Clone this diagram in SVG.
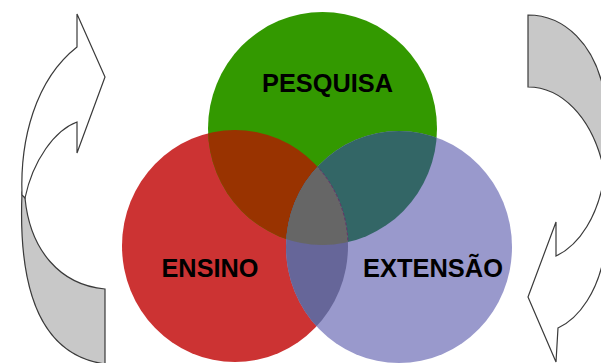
<svg xmlns="http://www.w3.org/2000/svg" width="601" height="363" viewBox="0 0 601 363">
  <style>
    .arrow { stroke: #3a3a3a; stroke-width: 1.2; stroke-linejoin: miter; }
    .front { fill: #ffffff; }
    .back { fill: #c8c8c8; }
    .label { font-family: "Liberation Sans", Arial, sans-serif; font-weight: bold; font-size: 26px; fill: #000000; text-anchor: middle; }
  </style>
  <defs>
    <ellipse id="shape-green" cx="322.5" cy="128.5" rx="114.5" ry="116.5"/>
    <ellipse id="shape-red" cx="235" cy="246" rx="113" ry="116"/>
    <ellipse id="shape-blue" cx="399" cy="247" rx="113" ry="116"/>
    <clipPath id="clip-green"><use href="#shape-green"/></clipPath>
    <clipPath id="clip-red"><use href="#shape-red"/></clipPath>
    <clipPath id="clip-blue"><use href="#shape-blue"/></clipPath>
  </defs>

  <rect width="601" height="363" fill="#ffffff"/>

  <!-- cycle arrows on both sides -->
  <g id="connectors">
    <g id="arrow-left">
      <path class="arrow back" d="M22,193 C18,290 40,355 105,364 L105,289 C60,285 30,250 25,198 Z"/>
      <path class="arrow front" d="M77,14 L105,77 L77,153 L77,122 C55,130 33,160 25,198 L22,195 C20,140 35,80 77,47 Z"/>
    </g>
    <g id="arrow-right">
      <path class="arrow back" d="M528,15 C565,15 595,45 604,92 L604,170 C592,115 560,87 528,87 Z"/>
      <path class="arrow front" d="M604,178 C598,215 580,245 556,256 L556,222 L528,297 L556,362 L558,328 C580,318 598,290 604,256 Z"/>
    </g>
  </g>

  <!-- three overlapping circles -->
  <g id="node-ensino">
    <use href="#shape-red" fill="#cc3333"/>
  </g>
  <g id="node-pesquisa">
    <use href="#shape-green" fill="#339900"/>
  </g>
  <g id="node-extensao">
    <use href="#shape-blue" fill="#9999cc"/>
  </g>

  <!-- overlap regions -->
  <g id="overlaps">
    <g clip-path="url(#clip-red)"><use href="#shape-green" fill="#993300"/></g>
    <g clip-path="url(#clip-blue)"><use href="#shape-green" fill="#336666"/></g>
    <g clip-path="url(#clip-red)"><use href="#shape-blue" fill="#666699"/></g>
    <g clip-path="url(#clip-red)">
      <g clip-path="url(#clip-blue)"><use href="#shape-green" fill="#666666"/></g>
    </g>
    <g clip-path="url(#clip-green)">
      <g clip-path="url(#clip-blue)">
        <use href="#shape-red" fill="none" stroke="#663366" stroke-width="1" stroke-dasharray="3 2"/>
      </g>
    </g>
  </g>

  <!-- labels -->
  <text class="label" x="327.5" y="92" textLength="131" lengthAdjust="spacingAndGlyphs">PESQUISA</text>
  <text class="label" x="210" y="277" textLength="97" lengthAdjust="spacingAndGlyphs">ENSINO</text>
  <text class="label" x="433" y="277" textLength="140" lengthAdjust="spacingAndGlyphs">EXTENSÃO</text>
</svg>
